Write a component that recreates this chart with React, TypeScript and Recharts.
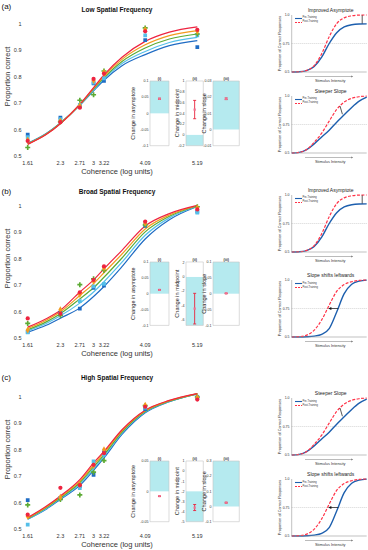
import React from "react";
import {
  ComposedChart, Line, Scatter, XAxis, YAxis, ZAxis, ReferenceArea, ReferenceLine, ErrorBar, Legend,
} from "recharts";

const FONT = '"Liberation Sans", Arial, Helvetica, sans-serif';

// coherence levels (log units) where data were collected
const COHERENCE = [1.61, 2.3, 2.71, 3, 3.22, 4.09, 5.19];
const FIT_X = [1.61, 2.0, 2.3, 2.71, 3.0, 3.22, 3.6, 4.09, 4.6, 5.19];
const Y_TICKS = [0.5, 0.6, 0.7, 0.8, 0.9, 1];

const SESSION_COLORS = ["#1f6cc4", "#55bfe9", "#5cab34", "#f39a1e", "#ee2440"];
const SESSION_SHAPES = ["square", "square", "cross", "diamond", "circle"];

// fitted curves, one row per session (blue, light blue, green, orange, red)
const LOW_FITS = [
  [0.548, 0.585, 0.625, 0.692, 0.747, 0.787, 0.842, 0.884, 0.918, 0.937],
  [0.547, 0.584, 0.625, 0.693, 0.750, 0.792, 0.850, 0.896, 0.930, 0.949],
  [0.546, 0.583, 0.624, 0.694, 0.753, 0.797, 0.858, 0.909, 0.943, 0.962],
  [0.545, 0.582, 0.623, 0.695, 0.756, 0.802, 0.866, 0.921, 0.956, 0.975],
  [0.544, 0.581, 0.622, 0.696, 0.759, 0.807, 0.874, 0.934, 0.969, 0.989],
];
const LOW_POINTS = [
  [0.581, 0.645, 0.688, 0.775, 0.784, 0.939, 0.912],
  [0.571, 0.640, 0.694, 0.778, 0.794, 0.957, 0.957],
  [0.532, 0.630, 0.711, 0.732, 0.822, 0.985, 0.962],
  [0.560, 0.632, 0.690, 0.786, 0.816, 0.978, 0.972],
  [0.557, 0.628, 0.683, 0.792, 0.812, 0.972, 0.978],
];

const BROAD_FITS = [
  [0.522, 0.548, 0.575, 0.614, 0.657, 0.695, 0.770, 0.875, 0.948, 0.998],
  [0.527, 0.555, 0.584, 0.632, 0.674, 0.713, 0.787, 0.889, 0.955, 0.999],
  [0.531, 0.561, 0.592, 0.648, 0.690, 0.730, 0.803, 0.902, 0.961, 1.000],
  [0.536, 0.567, 0.599, 0.661, 0.706, 0.747, 0.818, 0.913, 0.966, 1.001],
  [0.541, 0.573, 0.605, 0.674, 0.720, 0.762, 0.832, 0.924, 0.971, 1.002],
];
const BROAD_POINTS = [
  [0.523, 0.595, 0.611, 0.690, 0.698, 0.925, 0.979],
  [0.521, 0.590, 0.640, 0.695, 0.705, 0.930, 0.975],
  [0.555, 0.585, 0.702, 0.724, 0.756, 0.928, 0.997],
  [0.530, 0.607, 0.665, 0.715, 0.765, 0.935, 0.992],
  [0.574, 0.592, 0.673, 0.720, 0.771, 0.941, 0.987],
];

const HIGH_FITS = [
  [0.537, 0.575, 0.612, 0.665, 0.722, 0.769, 0.858, 0.940, 0.982, 1.012],
  [0.538, 0.577, 0.615, 0.671, 0.729, 0.775, 0.863, 0.943, 0.983, 1.012],
  [0.539, 0.580, 0.618, 0.676, 0.736, 0.781, 0.867, 0.945, 0.984, 1.012],
  [0.541, 0.583, 0.622, 0.681, 0.743, 0.788, 0.872, 0.948, 0.986, 1.013],
  [0.543, 0.586, 0.625, 0.687, 0.750, 0.794, 0.876, 0.950, 0.987, 1.013],
];
const HIGH_POINTS = [
  [0.609, 0.618, 0.662, 0.705, 0.790, 0.954, 0.999],
  [0.516, 0.615, 0.655, 0.756, 0.782, 0.960, 0.997],
  [0.591, 0.612, 0.629, 0.715, 0.759, 0.967, 1.000],
  [0.548, 0.620, 0.668, 0.740, 0.800, 0.969, 0.998],
  [0.554, 0.656, 0.666, 0.743, 0.787, 0.963, 0.990],
];

// insets (i) asymptote, (ii) midpoint, (iii) slope
const INSET_TAGS = ["(i)", "(ii)", "(iii)"];
const INSET_YLABELS = ["Change  in asymptote", "Change  in midpoint", "Change  in slope"];

const LOW_INSET_VALUE = [0.045, 0.47, 0.019];
const LOW_INSET_ERR = [[0.002, 0.002], [0.17, 0.17], [0.0005, 0.0005]];
const LOW_INSET_DOMAIN = [[-0.1, 0.1], [-0.2, 1], [-0.01, 0.03]];
const LOW_INSET_TICKS = [[-0.1, -0.05, 0, 0.05, 0.1], [-0.2, 0, 0.2, 0.4, 0.6, 0.8, 1], [-0.01, 0, 0.01, 0.02, 0.03]];
const LOW_INSET_SHADE = [[0, 0.1], [-0.2, 0], [0, 0.03]];

const BROAD_INSET_VALUE = [0.012, -4.45, 0.001];
const BROAD_INSET_ERR = [[0.001, 0.001], [2.15, 2.15], [0.001, 0.001]];
const BROAD_INSET_DOMAIN = [[-0.1, 0.1], [-6.8, 2.1], [-0.1, 0.1]];
const BROAD_INSET_TICKS = [[-0.1, -0.05, 0, 0.05, 0.1], [-6, -4, -2, 0, 2], [-0.1, -0.05, 0, 0.05, 0.1]];
const BROAD_INSET_SHADE = [[0, 0.1], [-6.8, 0], [0, 0.1]];

const HIGH_INSET_VALUE = [-0.008, -3.6, 0.025];
const HIGH_INSET_ERR = [[0.0005, 0.0005], [0.3, 0.3], [0.003, 0.003]];
const HIGH_INSET_DOMAIN = [[-0.05, 0.05], [-5, 1], [-0.1, 0.3]];
const HIGH_INSET_TICKS = [[-0.05, 0, 0.05], [-5, -4, -3, -2, -1, 0, 1], [-0.1, 0, 0.1, 0.2, 0.3]];
const HIGH_INSET_SHADE = [[0, 0.05], [-5, -2], [0, 0.3]];

// schematic curves on the right (stimulus intensity, arbitrary units 0..10)
const STIM_X = [0, 1, 2, 3, 4, 5, 6, 7, 8, 9, 10];
const ASYM_PRE = [0.5, 0.502, 0.512, 0.548, 0.63, 0.75, 0.845, 0.895, 0.915, 0.921, 0.922];
const ASYM_POST = [0.5, 0.502, 0.514, 0.556, 0.66, 0.81, 0.925, 0.975, 0.993, 0.999, 1.0];
const SLOPE_PRE = [0.5, 0.506, 0.53, 0.58, 0.64, 0.70, 0.77, 0.835, 0.9, 0.955, 0.99];
const SLOPE_POST = [0.5, 0.505, 0.53, 0.594, 0.674, 0.78, 0.882, 0.947, 0.98, 0.994, 0.999];
const SHIFT_PRE = [0.5, 0.5, 0.502, 0.508, 0.524, 0.574, 0.72, 0.88, 0.962, 0.99, 0.999];
const SHIFT_POST = [0.5, 0.503, 0.516, 0.56, 0.65, 0.78, 0.9, 0.96, 0.985, 0.996, 1.0];
const ASYM_GAP = [{ x: 9.4, y: 0.925 }, { x: 9.4, y: 0.997 }];
const SLOPE_GAP = [{ x: 6.44, y: 0.912 }, { x: 6.76, y: 0.84 }];
const SHIFT_GAP = [{ x: 6.2, y: 0.75 }, { x: 5.1, y: 0.75 }];
const SHIFT_HEAD = [{ x: 5.0, y: 0.75 }];
const LEGEND_ORDER = ["Pre-Training", "Post-Training"];

function MainPanel({ yOne, tag, tagY, title, titleY, fits, points }: any) {
  const rows = FIT_X.map((x, i) => {
    const r: any = { x };
    fits.forEach((f: number[], k: number) => (r["s" + k] = f[i]));
    return r;
  });
  return (
    <>
      <div style={{ position: "absolute", left: 1.5, top: tagY - 5, fontSize: 8, lineHeight: "10px" }}>{tag}</div>
      <div style={{ position: "absolute", left: 57, width: 120, top: titleY - 4, fontSize: 6.5, lineHeight: "8px", fontWeight: 700, textAlign: "center" }}>{title}</div>
      <div style={{ position: "absolute", left: 0, top: yOne - 30 }}>
        <ComposedChart width={240} height={190} data={rows} margin={{ top: 24.7, right: 28, bottom: 0, left: 0 }}>
          <XAxis
            dataKey="x" type="number" domain={[1.5, 5.5]} ticks={COHERENCE} interval={0}
            axisLine={false} tickLine={false} tickSize={0} tickMargin={2.5} height={25.4}
            tick={{ fontSize: 5.5, fill: "#333" }}
            label={{
              content: () => (
                <text x={117} y={177.7} textAnchor="middle" dominantBaseline="central" fontSize={7.5} fill="#333">
                  Coherence (log units)
                </text>
              ),
            }}
          />
          <YAxis
            type="number" domain={[0.49, 1.02]} ticks={Y_TICKS} interval={0} width={22.5} allowDataOverflow
            axisLine={false} tickLine={false} tickSize={0} tickMargin={1}
            tick={{ fontSize: 5.5, fill: "#333" }}
            label={{
              content: () => (
                <text x={7} y={82.5} transform="rotate(-90 7 82.5)" textAnchor="middle" dominantBaseline="central" fontSize={7.5} fill="#333">
                  Proportion correct
                </text>
              ),
            }}
          />
          <ZAxis range={[14, 14]} />
          {SESSION_COLORS.map((c, k) => (
            <Line key={"l" + k} dataKey={"s" + k} type="monotone" stroke={c} strokeWidth={1.2} dot={false} isAnimationActive={false} />
          ))}
          {SESSION_COLORS.map((c, k) => (
            <Scatter
              key={"p" + k}
              data={COHERENCE.map((x, i) => ({ x, y: points[k][i] }))}
              dataKey="y" fill={c} shape={SESSION_SHAPES[k] as any} isAnimationActive={false}
            />
          ))}
        </ComposedChart>
      </div>
    </>
  );
}

const INSET_LEFT = [150, 186, 212.7];
const INSET_WIDTH = [19, 17.3, 26.3];
const INSET_LABEL_GAP = [16.7, 8.5, 9];

function Inset({ left, top, width, height, domain, ticks, shade, value, err, tag, ylabel, gap }: any) {
  const pad = 22;
  return (
    <div style={{ position: "absolute", left: left - pad, top: top - 7 }}>
      <ComposedChart width={width + pad + 1} height={height + 8} margin={{ top: 7, right: 1, bottom: 1, left: 0 }}>
        <XAxis type="number" dataKey="x" domain={[0, 2]} hide />
        <YAxis
          type="number" domain={domain} ticks={ticks} interval={0} width={pad} allowDataOverflow
          axisLine={false} tickLine={false} tickSize={0} tickMargin={1.5}
          tick={{ fontSize: 3.6, fill: "#333" }}
          label={{
            content: () => (
              <g>
                <text x={pad - gap} y={7 + height / 2} transform={`rotate(-90 ${pad - gap} ${7 + height / 2})`} textAnchor="middle" dominantBaseline="central" fontSize={5.6} fill="#222">
                  {ylabel}
                </text>
                <text x={pad + width / 2} y={5} textAnchor="middle" dominantBaseline="central" fontSize={3.6} fontWeight={700} fill="#222">
                  {tag}
                </text>
              </g>
            ),
          }}
        />
        <ZAxis range={[5, 5]} />
        <ReferenceArea y1={shade[0]} y2={shade[1]} fill="#b5eaef" fillOpacity={1} stroke="none" />
        <ReferenceArea y1={domain[0]} y2={domain[1]} fill="none" fillOpacity={0} stroke="#c4c4c4" strokeWidth={0.6} />
        <Scatter data={[{ x: 1, y: value, err }]} dataKey="y" fill="#f07090" shape="square" isAnimationActive={false}>
          <ErrorBar dataKey="err" direction="y" stroke="#e8243c" strokeWidth={0.9} width={1.5} isAnimationActive={false} />
        </Scatter>
      </ComposedChart>
    </div>
  );
}

function InsetRow({ top, bottom, values, errs, domains, ticks, shades }: any) {
  return (
    <>
      {INSET_TAGS.map((t, i) => (
        <Inset
          key={t} left={INSET_LEFT[i]} top={top} width={INSET_WIDTH[i]} height={bottom - top}
          domain={domains[i]} ticks={ticks[i]} shade={shades[i]} value={values[i]} err={errs[i]}
          tag={t} ylabel={INSET_YLABELS[i]} gap={INSET_LABEL_GAP[i]}
        />
      ))}
    </>
  );
}

const miniLegend = (props: any) => {
  const items = (props.payload || [])
    .filter((e: any) => LEGEND_ORDER.includes(e.value))
    .sort((a: any, b: any) => LEGEND_ORDER.indexOf(a.value) - LEGEND_ORDER.indexOf(b.value));
  return (
    <div style={{ fontSize: 2.6, lineHeight: "4px", fontFamily: FONT, color: "#333" }}>
      {items.map((e: any) => (
        <div key={e.value} style={{ display: "flex", alignItems: "center", height: 4 }}>
          <svg width={7} height={3} style={{ marginRight: 1 }}>
            <line x1={0} y1={1.5} x2={7} y2={1.5} stroke={e.color} strokeWidth={1.1} strokeDasharray={e.value === "Post-Training" ? "2 1" : undefined} />
          </svg>
          {e.value}
        </div>
      ))}
    </div>
  );
};

const arrowHead = (p: any) => <path d={`M${p.cx - 1},${p.cy} L${p.cx + 2.2},${p.cy - 1.4} L${p.cx + 2.2},${p.cy + 1.4} Z`} fill="#111" />;

function MiniPanel({ yTop, title, pre, post, gap, head }: any) {
  const rows = STIM_X.map((x, i) => ({ x, pre: pre[i], post: post[i] }));
  const plotH = 57;
  const plotL = 17.7;
  const plotW = 75;
  return (
    <div style={{ position: "absolute", left: 274, top: yTop - 10 }}>
      <ComposedChart width={94} height={plotH + 24} data={rows} margin={{ top: 10, right: 1.3, bottom: 0, left: 0 }}>
        <XAxis
          dataKey="x" type="number" domain={[0, 10]} height={14} tick={false} tickLine={false}
          axisLine={{ stroke: "#999", strokeWidth: 0.6 }}
          label={{
            content: () => (
              <g>
                <line x1={plotL + 13.3} y1={10 + plotH + 4.5} x2={plotL + 60} y2={10 + plotH + 4.5} stroke="#777" strokeWidth={0.5} />
                <path d={`M${plotL + 61.5},${10 + plotH + 4.5} l-2,-1 l0,2 z`} fill="#777" />
                <text x={plotL + 38.5} y={10 + plotH + 8.6} textAnchor="middle" dominantBaseline="central" fontSize={3.9} fill="#333">
                  Stimulus Intensity
                </text>
              </g>
            ),
          }}
        />
        <YAxis
          type="number" domain={[0.5, 1]} ticks={[0.5, 0.75, 1]} interval={0} width={plotL}
          tickFormatter={(v: number) => (v === 1 ? "1.0" : String(v))}
          axisLine={{ stroke: "#999", strokeWidth: 0.6 }} tickLine={false} tickSize={0} tickMargin={2.2}
          tick={{ fontSize: 3.5, fill: "#333" }}
          label={{
            content: () => (
              <g>
                <text x={6} y={10 + plotH / 2} transform={`rotate(-90 6 ${10 + plotH / 2})`} textAnchor="middle" dominantBaseline="central" fontSize={3.8} fill="#333">
                  Proportion of Correct Responses
                </text>
                <text x={plotL + plotW / 2 + 1.5} y={4.5} textAnchor="middle" dominantBaseline="central" fontSize={5} fill="#222">
                  {title}
                </text>
              </g>
            ),
          }}
        />
        <ZAxis range={[4, 4]} />
        <ReferenceLine y={0.75} stroke="#aaa" strokeDasharray="1 1" strokeWidth={0.5} />
        <Line dataKey="pre" name="Pre-Training" type="monotone" stroke="#1d5fae" strokeWidth={1.4} dot={false} isAnimationActive={false} />
        <Line dataKey="post" name="Post-Training" type="monotone" stroke="#ff3348" strokeWidth={1.2} strokeDasharray="3 1.5" dot={false} isAnimationActive={false} />
        <ReferenceLine segment={gap} stroke="#111" strokeWidth={0.7} />
        {head ? <Scatter data={head} dataKey="y" name="arrow" shape={arrowHead} isAnimationActive={false} legendType="none" /> : null}
        <Legend
          layout="vertical" align="center" verticalAlign="middle" content={miniLegend}
          wrapperStyle={{ left: 20.5, top: 11.5, width: 34, height: 9 }}
        />
      </ComposedChart>
    </div>
  );
}

export default function App() {
  return (
    <div style={{ position: "absolute", left: 0, top: 0, width: 368, height: 550, overflow: "hidden", background: "#fff", fontFamily: FONT, color: "#111" }}>
      <MainPanel yOne={24} tag="(a)" tagY={6.7} title="Low Spatial Frequency" titleY={10.3} fits={LOW_FITS} points={LOW_POINTS} />
      <MainPanel yOne={206} tag="(b)" tagY={192.3} title="Broad Spatial Frequency" titleY={192} fits={BROAD_FITS} points={BROAD_POINTS} />
      <MainPanel yOne={396.7} tag="(c)" tagY={378.3} title="High Spatial Frequency" titleY={378.3} fits={HIGH_FITS} points={HIGH_POINTS} />

      <InsetRow top={81} bottom={145.7} values={LOW_INSET_VALUE} errs={LOW_INSET_ERR} domains={LOW_INSET_DOMAIN} ticks={LOW_INSET_TICKS} shades={LOW_INSET_SHADE} />
      <InsetRow top={262.3} bottom={325.7} values={BROAD_INSET_VALUE} errs={BROAD_INSET_ERR} domains={BROAD_INSET_DOMAIN} ticks={BROAD_INSET_TICKS} shades={BROAD_INSET_SHADE} />
      <InsetRow top={461} bottom={521.7} values={HIGH_INSET_VALUE} errs={HIGH_INSET_ERR} domains={HIGH_INSET_DOMAIN} ticks={HIGH_INSET_TICKS} shades={HIGH_INSET_SHADE} />

      <MiniPanel yTop={14.7} title="Improved Asymptote" pre={ASYM_PRE} post={ASYM_POST} gap={ASYM_GAP} />
      <MiniPanel yTop={95.7} title="Steeper Slope" pre={SLOPE_PRE} post={SLOPE_POST} gap={SLOPE_GAP} />
      <MiniPanel yTop={194.7} title="Improved Asymptote" pre={ASYM_PRE} post={ASYM_POST} gap={ASYM_GAP} />
      <MiniPanel yTop={280} title="Slope shifts leftwards" pre={SHIFT_PRE} post={SHIFT_POST} gap={SHIFT_GAP} head={SHIFT_HEAD} />
      <MiniPanel yTop={398.3} title="Steeper Slope" pre={SLOPE_PRE} post={SLOPE_POST} gap={SLOPE_GAP} />
      <MiniPanel yTop={479} title="Slope shifts leftwards" pre={SHIFT_PRE} post={SHIFT_POST} gap={SHIFT_GAP} head={SHIFT_HEAD} />
    </div>
  );
}
